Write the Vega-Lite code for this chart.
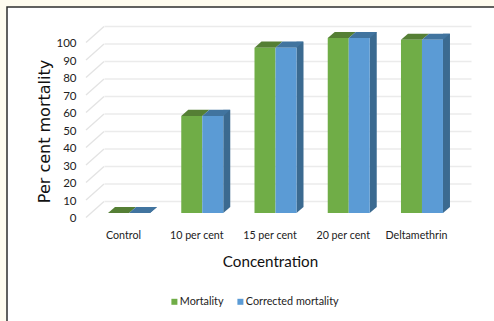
{
  "$schema": "https://vega.github.io/schema/vega-lite/v6.json",
  "width": 492,
  "height": 319,
  "autosize": "none",
  "padding": {"left": 7, "top": 7, "right": 0, "bottom": 0},
  "background": "#fffcef",
  "view": {"fill": "white", "stroke": "#2e2e2e", "strokeWidth": 1.5},
  "datasets": {
    "mortality": [
      {"concentration": "Control", "series": "Mortality", "percent": 0},
      {"concentration": "Control", "series": "Corrected mortality", "percent": 0},
      {"concentration": "10 per cent", "series": "Mortality", "percent": 55.5},
      {"concentration": "10 per cent", "series": "Corrected mortality", "percent": 55.5},
      {"concentration": "15 per cent", "series": "Mortality", "percent": 94.5},
      {"concentration": "15 per cent", "series": "Corrected mortality", "percent": 94.5},
      {"concentration": "20 per cent", "series": "Mortality", "percent": 100},
      {"concentration": "20 per cent", "series": "Corrected mortality", "percent": 100},
      {"concentration": "Deltamethrin", "series": "Mortality", "percent": 99},
      {"concentration": "Deltamethrin", "series": "Corrected mortality", "percent": 99}
    ],
    "levels": [
      {"level": 0}, {"level": 10}, {"level": 20}, {"level": 30}, {"level": 40}, {"level": 50},
      {"level": 60}, {"level": 70}, {"level": 80}, {"level": 90}, {"level": 100}
    ]
  },
  "encoding": {
    "x": {
      "field": "concentration",
      "type": "nominal",
      "sort": ["Control", "10 per cent", "15 per cent", "20 per cent", "Deltamethrin"],
      "scale": {
        "domain": ["Control", "10 per cent", "15 per cent", "20 per cent", "Deltamethrin"],
        "range": [85.4, 451.6],
        "paddingInner": 0.4266,
        "paddingOuter": 0.2133
      },
      "axis": {
        "title": "Concentration",
        "offset": -98,
        "labelAngle": 0,
        "labelFont": "Lato",
        "labelFontSize": 10.7,
        "labelColor": "#222",
        "labelPadding": 2,
        "labelOffset": -5.5,
        "ticks": false,
        "domain": false,
        "grid": false,
        "titleFont": "Lato",
        "titleFontSize": 15.2,
        "titleFontWeight": "normal",
        "titleColor": "#111",
        "titleX": 263,
        "titleY": 33,
        "titleBaseline": "middle"
      }
    },
    "y": {
      "field": "percent",
      "type": "quantitative",
      "scale": {"domain": [0, 100], "range": [206, 31]},
      "axis": {
        "title": "Per cent mortality",
        "offset": -71,
        "values": [0, 10, 20, 30, 40, 50, 60, 70, 80, 90, 100],
        "grid": false,
        "ticks": false,
        "domain": false,
        "labelFont": "Lato",
        "labelFontSize": 11.5,
        "labelColor": "#222",
        "labelPadding": 2,
        "labelOffset": 5.5,
        "titleFont": "DejaVu Sans",
        "titleFontSize": 16,
        "titleFontWeight": "normal",
        "titleColor": "#111",
        "titleX": -26,
        "titleY": 124
      }
    }
  },
  "layer": [
    {
      "data": {"name": "levels"},
      "transform": [{"calculate": "datum.level", "as": "percent"}, {"calculate": "'15 per cent'", "as": "concentration"}],
      "mark": {"type": "tick", "orient": "horizontal", "size": 367, "thickness": 1.3, "color": "#e3e3e3", "xOffset": 12.5, "yOffset": -11.5}
    },
    {
      "data": {"name": "levels"},
      "transform": [{"calculate": "datum.level", "as": "percent"}, {"calculate": "'Control'", "as": "concentration"}],
      "mark": {"type": "point", "filled": false, "shape": "M-1,0.89L1,-0.89", "size": 324, "stroke": "#e3e3e3", "strokeWidth": 1.3, "opacity": 1, "xOffset": -34, "yOffset": -3.5}
    },
    {
      "data": {"name": "mortality"},
      "transform": [{"filter": "datum.series === 'Corrected mortality'"}],
      "mark": {"type": "bar", "width": 7, "color": "#3b6a90", "xOffset": 24.5, "yOffset": -6, "y2Offset": -6}
    },
    {
      "data": {"name": "mortality"},
      "transform": [{"filter": "datum.series === 'Corrected mortality'"}],
      "mark": {"type": "point", "filled": true, "opacity": 1, "shape": "M1,0L1,-0.286L1.333,-0.286Z", "size": 1764, "color": "#3b6a90"},
      "encoding": {
        "y": {"datum": 0, "type": "quantitative"}
      }
    },
    {
      "data": {"name": "mortality"},
      "transform": [{"filter": "datum.series === 'Mortality'"}],
      "mark": {"type": "point", "filled": true, "opacity": 1, "shape": "M-0.5,0L0.5,0L0.833,-0.286L-0.167,-0.286Z", "size": 1764, "color": "#557f35", "xOffset": -10.5}
    },
    {
      "data": {"name": "mortality"},
      "transform": [{"filter": "datum.series === 'Corrected mortality'"}],
      "mark": {"type": "point", "filled": true, "opacity": 1, "shape": "M-0.5,0L0.5,0L0.833,-0.286L-0.167,-0.286Z", "size": 1764, "color": "#41749f", "xOffset": 10.5}
    },
    {
      "data": {"name": "mortality"},
      "mark": {"type": "bar"},
      "encoding": {
        "xOffset": {
          "field": "series",
          "type": "nominal",
          "sort": ["Mortality", "Corrected mortality"],
          "scale": {"domain": ["Mortality", "Corrected mortality"], "paddingInner": 0, "paddingOuter": 0}
        },
        "color": {
          "field": "series",
          "type": "nominal",
          "sort": ["Mortality", "Corrected mortality"],
          "scale": {"domain": ["Mortality", "Corrected mortality"], "range": ["#70ad47", "#5b9bd5"]},
          "legend": {
            "title": null,
            "orient": "none",
            "direction": "horizontal",
            "legendX": 162,
            "legendY": 289,
            "symbolType": "square",
            "symbolSize": 36,
            "symbolStrokeWidth": 0,
            "labelFont": "Lato",
            "labelFontSize": 10.8,
            "labelColor": "#222",
            "labelOffset": 0,
            "columnPadding": 11
          }
        }
      }
    }
  ]
}
